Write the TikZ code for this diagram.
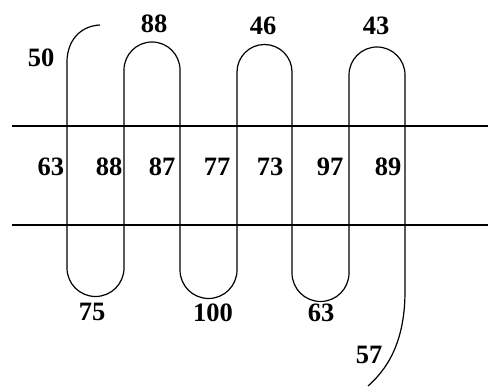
\documentclass[tikz,border=0pt]{standalone}
\usepackage{fontspec}
\setmainfont{Liberation Serif}
\usetikzlibrary{positioning}
\tikzset{
  rail/.style ={line width=1.3pt, black},
  coil/.style ={line width=1.2pt, black, line join=round},
  lab/.style  ={inner sep=0pt, font=\fontsize{26.5}{31}\selectfont\bfseries},
}
\begin{document}
\begin{tikzpicture}[x=1pt, y=1pt]
  \useasboundingbox (0,0) rectangle (488,387);
  % the two rails
  \coordinate (railTL) at (12,261);
  \coordinate (railTR) at (488,261);
  \coordinate (railBL) at (12,162);
  \coordinate (railBR) at (488,162);
  \draw[rail] (railTL) -- (railTR);
  \draw[rail] (railBL) -- (railBR);
  % the winding
  \coordinate (cStart) at (100,362);
  \coordinate (cEnd)   at (368,1);
  \draw[coil] (cStart) .. controls (79,361) and (67,345) .. (67,325)
    -- (67,119)  arc[start angle=180, end angle=360, radius=28.5]
    -- (124,317) arc[start angle=180, end angle=0,   radius=28]
    -- (180,117) arc[start angle=180, end angle=360, radius=28.5]
    -- (237,315) arc[start angle=180, end angle=0,   radius=27.5]
    -- (292,114) arc[start angle=180, end angle=360, radius=28.5]
    -- (349,312) arc[start angle=180, end angle=0,   radius=28]
    -- (405,96) .. controls (405,52) and (392,22) .. (cEnd);
  % top labels
  \node[lab] (t50) at (41,329) {50};
  \node[lab] (t88) at (154,363) {88};
  \node[lab] (t46) at (263,361) {46};
  \node[lab] (t43) at (376,361) {43};
  % middle labels
  \node[lab] (m63) at (51,220) {63};
  \node[lab] (m88) at (109,220) {88};
  \node[lab] (m87) at (162,220) {87};
  \node[lab] (m77) at (217,220) {77};
  \node[lab] (m73) at (270,220) {73};
  \node[lab] (m97) at (330,220) {97};
  \node[lab] (m89) at (388,220) {89};
  % bottom labels
  \node[lab] (b75)  at (92,75)  {75};
  \node[lab] (b100) at (213,74) {100};
  \node[lab] (b63)  at (321,74) {63};
  \node[lab] (b57)  at (369,32) {57};
\end{tikzpicture}
\end{document}
